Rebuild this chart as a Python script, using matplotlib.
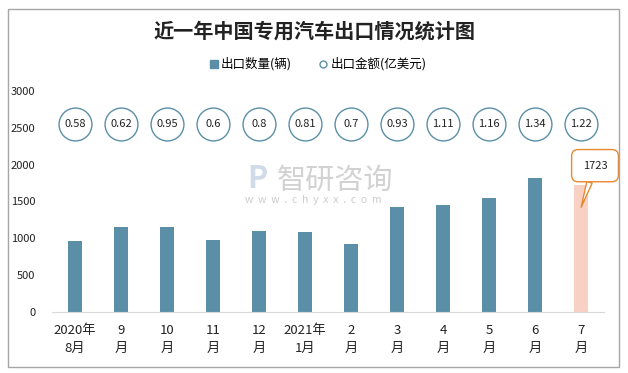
import matplotlib.pyplot as plt
from matplotlib.patches import Rectangle
from matplotlib.lines import Line2D

plt.rcParams['font.family'] = ['Noto Sans CJK SC', 'DejaVu Sans']

months = ['2020年\n8月', '9\n月', '10\n月', '11\n月', '12\n月', '2021年\n1月',
          '2\n月', '3\n月', '4\n月', '5\n月', '6\n月', '7\n月']
qty = [960, 1150, 1150, 970, 1095, 1080, 918, 1420, 1448, 1545, 1815, 1723]
amount = ['0.58', '0.62', '0.95', '0.6', '0.8', '0.81', '0.7', '0.93', '1.11', '1.16', '1.34', '1.22']

bar_color = '#5B8FA8'
last_color = '#F8D0C4'
orange = '#E8892F'

fig = plt.figure(figsize=(6.28, 3.73), dpi=100)
ax = fig.add_axes([0.083, 0.164, 0.879, 0.592])

x = list(range(len(months)))
colors = [bar_color] * (len(qty) - 1) + [last_color]
ax.bar(x, qty, width=0.31, color=colors, zorder=2)

# amount bubbles along the top
circle_y = 2550
ax.scatter(x, [circle_y] * len(x), s=560, facecolor='white',
           edgecolor=bar_color, linewidth=1, zorder=3)
for i, a in enumerate(amount):
    ax.text(i, circle_y, a, ha='center', va='center', fontsize=8,
            color='#222222', zorder=4)

# callout for the latest month
ax.annotate(str(qty[-1]), xy=(x[-1], 1420), xytext=(10, 30),
            textcoords='offset points', ha='center', va='center',
            fontsize=8, color='#222222',
            bbox=dict(boxstyle='round,pad=1.0,rounding_size=0.6', fc='white',
                      ec=orange, lw=1),
            arrowprops=dict(arrowstyle='wedge,tail_width=0.5,shrink_factor=0.5',
                            fc='white', ec=orange, lw=1, shrinkA=0, shrinkB=0),
            zorder=5, annotation_clip=False)

ax.set_xlim(-0.5, len(x) - 0.5)
ax.set_ylim(0, 3000)
ax.set_yticks(range(0, 3001, 500))
ax.set_xticks(x)
ax.set_xticklabels(months, fontsize=9.5, color='#222222', linespacing=1.5)
ax.tick_params(axis='y', labelsize=8, length=0, pad=12, labelcolor='#222222')
ax.tick_params(axis='x', length=0, pad=9)
for s in ['top', 'right', 'left']:
    ax.spines[s].set_visible(False)
ax.spines['bottom'].set_color('#d9d9d9')

# watermark
fig.text(0.44, 0.515, '智研咨询', fontsize=21, color='#bfbfbf', alpha=0.7,
         ha='left', va='center')
fig.text(0.39, 0.463, 'w  w  w  .  c  h  y  x  x  .  c  o  m', fontsize=7.5,
         color='#bfbfbf', alpha=0.8, ha='left', va='center')
fig.text(0.393, 0.52, 'Ρ', fontsize=22, color='#c5d3e3', alpha=0.8,
         ha='left', va='center', fontweight='bold')

fig.text(0.5, 0.918, '近一年中国专用汽车出口情况统计图', fontsize=14.5,
         fontweight='bold', ha='center', va='center', color='#222222')

handles = [Line2D([], [], marker='s', linestyle='none', color=bar_color, markersize=6),
           Line2D([], [], marker='o', linestyle='none', markerfacecolor='white',
                  markeredgecolor=bar_color, markersize=5)]
fig.legend(handles, ['出口数量(辆)', '出口金额(亿美元)'], loc='center',
           bbox_to_anchor=(0.505, 0.828), ncol=2, frameon=False, fontsize=9,
           handletextpad=0.1, columnspacing=2.0, handlelength=1.0)

fig.patches.append(Rectangle((0.013, 0.016), 0.973, 0.96, transform=fig.transFigure,
                             fill=False, edgecolor='#a6a6a6', lw=1))

fig.savefig('out.png', dpi=100)
